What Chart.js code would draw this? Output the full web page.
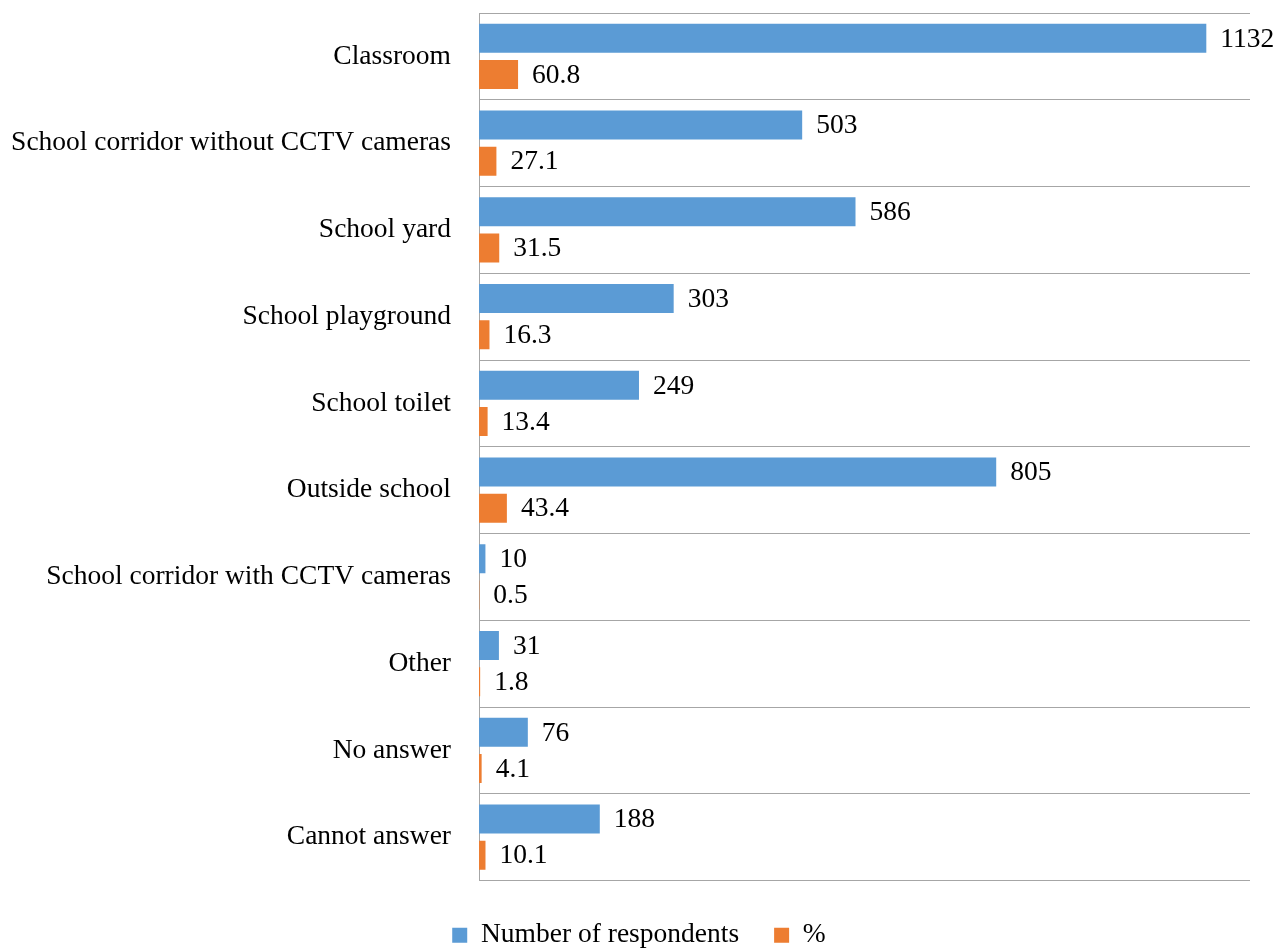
<!DOCTYPE html>
<html>
<head>
<meta charset="utf-8">
<script src="https://cdn.jsdelivr.net/npm/chart.js@4.4.1/dist/chart.umd.min.js"></script>
<style>
  html, body { margin: 0; padding: 0; background: #fff; }
  #wrap { width: 1274px; height: 948px; }
</style>
</head>
<body>
<div id="wrap"><canvas id="chart"></canvas></div>
<script>
// places where the incidents happened
const places = [
  'Classroom',
  'School corridor without CCTV cameras',
  'School yard',
  'School playground',
  'School toilet',
  'Outside school',
  'School corridor with CCTV cameras',
  'Other',
  'No answer',
  'Cannot answer'
];
const respondents = [1132, 503, 586, 303, 249, 805, 10, 31, 76, 188];
const percents = [60.8, 27.1, 31.5, 16.3, 13.4, 43.4, 0.5, 1.8, 4.1, 10.1];

const FONT_FAMILY = '"Liberation Serif", "Times New Roman", serif';
const FONT_SIZE = 27.5;

// value labels at the end of each bar
const barLabels = {
  id: 'barLabels',
  afterLayout(chart) {
    // center the legend a bit further right, under the whole figure
    chart.legend.left += 28;
  },
  afterDatasetsDraw(chart) {
    const ctx = chart.ctx;
    ctx.save();
    ctx.font = FONT_SIZE + 'px ' + FONT_FAMILY;
    ctx.fillStyle = '#000';
    ctx.textBaseline = 'middle';
    ctx.textAlign = 'left';
    chart.data.datasets.forEach((ds, i) => {
      chart.getDatasetMeta(i).data.forEach((bar, j) => {
        const v = ds.data[j];
        const txt = i === 0 ? String(v) : v.toFixed(1);
        ctx.fillText(txt, bar.x + 14, bar.y + 1);
      });
    });
    ctx.restore();
  }
};

new Chart(document.getElementById('chart'), {
  type: 'bar',
  data: {
    labels: places,
    datasets: [
      {
        label: 'Number of respondents',
        data: respondents,
        backgroundColor: '#5B9BD5',
        borderWidth: 0,
        categoryPercentage: 0.833,
        barPercentage: 0.8
      },
      {
        label: '%',
        data: percents,
        backgroundColor: '#ED7D31',
        borderWidth: 0,
        categoryPercentage: 0.833,
        barPercentage: 0.8
      }
    ]
  },
  options: {
    indexAxis: 'y',
    responsive: true,
    maintainAspectRatio: false,
    animation: false,
    layout: { padding: { top: 13, right: 24, bottom: -11, left: 0 } },
    scales: {
      x: {
        min: 0,
        max: 1200,
        ticks: { display: false },
        grid: { display: false },
        border: { display: false },
        afterFit: s => {
          s.height = 39;
          s.paddingLeft = s.paddingRight = 0;
        }
      },
      y: {
        ticks: {
          color: '#000',
          padding: 28,
          font: { family: FONT_FAMILY, size: FONT_SIZE }
        },
        grid: { color: '#a6a6a6', lineWidth: 1, drawTicks: false, offset: true },
        border: { color: '#a6a6a6' },
        afterFit: s => {
          s.width = 479;
          s.paddingTop = s.paddingBottom = 0;
        }
      }
    },
    plugins: {
      tooltip: { enabled: false },
      legend: {
        position: 'bottom',
        labels: {
          color: '#000',
          boxWidth: 15,
          boxHeight: 15,
          padding: 2,
          font: { family: FONT_FAMILY, size: FONT_SIZE },
          // extra room after the first entry so the two items sit apart
          generateLabels: chart => {
            const items = Chart.defaults.plugins.legend.labels.generateLabels(chart);
            items[0].text += '\u2003\u2009';
            return items;
          }
        }
      }
    }
  },
  plugins: [barLabels]
});
</script>
</body>
</html>
